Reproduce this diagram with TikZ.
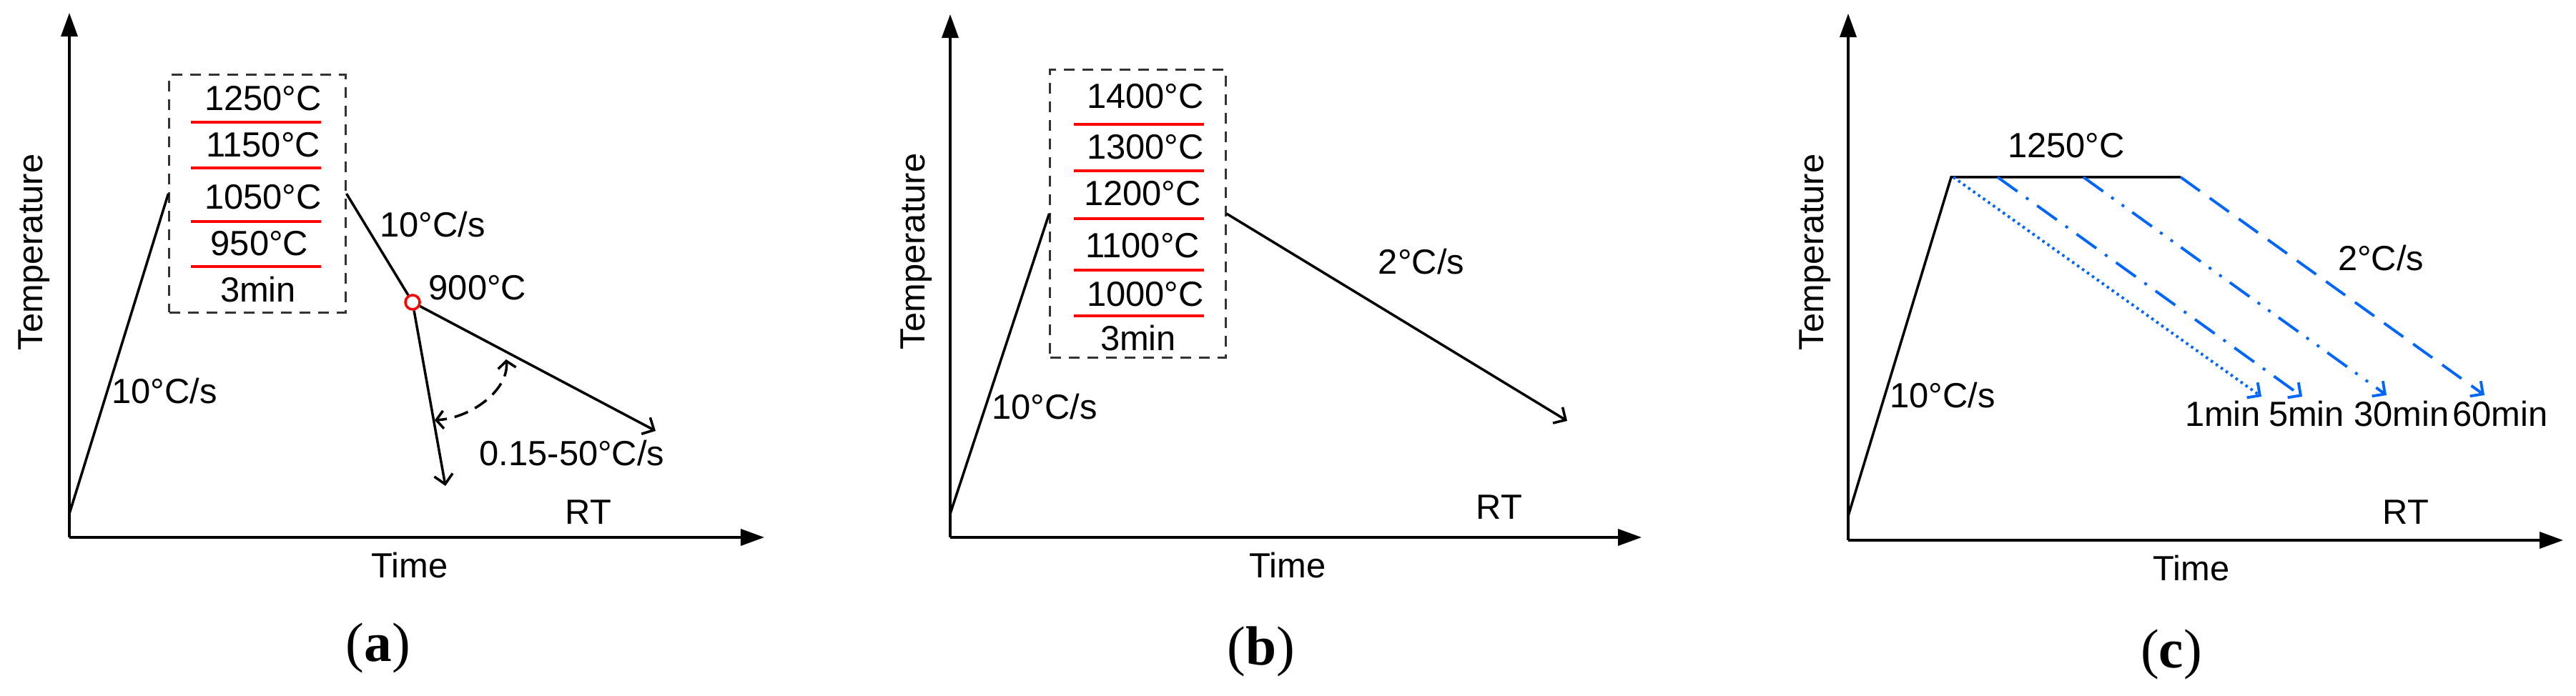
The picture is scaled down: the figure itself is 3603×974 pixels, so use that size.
\documentclass[tikz,border=0pt]{standalone}
\usepackage{fontspec}
\setmainfont{Liberation Sans}
\newfontfamily\capfont{Liberation Serif}
\usetikzlibrary{arrows.meta}
\definecolor{myblue}{RGB}{0,102,255}
\definecolor{myred}{RGB}{255,0,0}
\definecolor{boxgray}{RGB}{51,51,51}
\begin{document}
\begin{tikzpicture}[x=0.01cm,y=-0.01cm,
  lbl/.style={inner sep=0pt, anchor=base, font=\fontsize{13.9pt}{16pt}\selectfont},
  ylbl/.style={lbl, rotate=90},
  axis/.style={line width=1pt, -{Triangle[length=0.33cm,width=0.23cm]}},
  curve/.style={line width=1pt},
  barb/.style={line width=1pt, -{Straight Barb[length=0.13cm,width=0.26cm]}},
  holdbox/.style={draw=boxgray, line width=0.85pt, dash pattern=on 0.15cm off 0.11cm, inner sep=0pt},
  redline/.style={draw=myred, line width=1.3pt},
  bluearrow/.style={draw=myblue, line width=1.1pt, -{Straight Barb[length=0.13cm,width=0.26cm]}},
  panel/.style={inner sep=0pt, font=\capfont\fontsize{22pt}{24pt}\selectfont}
]
\useasboundingbox (0,0) rectangle (3603,974);

% ---------------- panel (a) ----------------
\coordinate (oa) at (97,752);
\coordinate (ya) at (97,18);
\coordinate (xa) at (1069,752);
\draw[axis] (oa) -- (ya);
\draw[axis] (oa) -- (xa);
\node[holdbox, minimum width=2.46cm, minimum height=3.32cm] (boxa) at (360,271) {};
\coordinate (ra) at (97,719);
\draw[curve] (ra) -- (boxa.west);
\node[circle, draw=myred, line width=1pt, fill=white, minimum size=0.2cm, inner sep=0pt] (c900) at (577,423) {};
\draw[curve] (boxa.east) -- (c900);
\coordinate (ta1) at (917,603);
\coordinate (ta2) at (623,680);
\draw[barb] (c900) -- (ta1);
\draw[barb] (c900) -- (ta2);
\coordinate (arc1) at (708,503);
\coordinate (arc2) at (608,588);
\draw[line width=1pt, dash pattern=on 0.2cm off 0.11cm,
  {Straight Barb[length=0.1cm,width=0.25cm]}-{Straight Barb[length=0.1cm,width=0.25cm]}]
  (arc1) .. controls (712,545) and (660,585) .. (arc2);
\foreach \yy/\nm in {171/ra1,235/ra2,310/ra3,373/ra4}{
  \coordinate (\nm l) at (267,\yy); \coordinate (\nm r) at (449,\yy);
  \draw[redline] (\nm l) -- (\nm r);}
\node[lbl] (a1250) at (368,155) {1250°C};
\node[lbl] (a1150) at (368,220) {1150°C};
\node[lbl] (a1050) at (368,293) {1050°C};
\node[lbl] (a950) at (363,358) {950°C};
\node[lbl] (a3min) at (361,423) {3min};
\node[lbl] (aup) at (230,565) {10°C/s};
\node[lbl] (adown) at (605,332) {10°C/s};
\node[lbl] (a900) at (668,420) {900°C};
\node[lbl] (arange) at (800,652) {0.15-50°C/s};
\node[lbl] (aRT) at (823,734) {RT};
\node[lbl] (atime) at (573,809) {Time};
\node[ylbl] (atemp) at (60,353) {Temperature};
\node[panel] (capa) at (529,907) {(\textbf{a})};

% ---------------- panel (b) ----------------
\coordinate (ob) at (1329,752);
\coordinate (yb) at (1329,20);
\coordinate (xb) at (2296,752);
\draw[axis] (ob) -- (yb);
\draw[axis] (ob) -- (xb);
\node[holdbox, minimum width=2.45cm, minimum height=4.02cm] (boxb) at (1591.5,299) {};
\coordinate (rb) at (1329,719);
\draw[curve] (rb) -- (boxb.west);
\coordinate (tb) at (2192,589);
\draw[barb] (boxb.east) -- (tb);
\foreach \yy/\nm in {174/rb1,239/rb2,306/rb3,378/rb4,442/rb5}{
  \coordinate (\nm l) at (1502,\yy); \coordinate (\nm r) at (1684,\yy);
  \draw[redline] (\nm l) -- (\nm r);}
\node[lbl] (b1400) at (1602,152) {1400°C};
\node[lbl] (b1300) at (1602,223) {1300°C};
\node[lbl] (b1200) at (1598,288) {1200°C};
\node[lbl] (b1100) at (1598,361) {1100°C};
\node[lbl] (b1000) at (1602,429) {1000°C};
\node[lbl] (b3min) at (1592,491) {3min};
\node[lbl] (bup) at (1461,587) {10°C/s};
\node[lbl] (bdown) at (1988,384) {2°C/s};
\node[lbl] (bRT) at (2097,727) {RT};
\node[lbl] (btime) at (1801,809) {Time};
\node[ylbl] (btemp) at (1293,352) {Temperature};
\node[panel] (capb) at (1764,912) {(\textbf{b})};

% ---------------- panel (c) ----------------
\coordinate (oc) at (2585,756);
\coordinate (yc) at (2585,19);
\coordinate (xc) at (3585,756);
\draw[axis] (oc) -- (yc);
\draw[axis] (oc) -- (xc);
\coordinate (rc) at (2585,722);
\coordinate (p1) at (2729,248);
\coordinate (p2) at (3050,248);
\draw[curve] (rc) -- (p1) -- (p2);
\coordinate (s1) at (2732,248);
\coordinate (s2) at (2794,248);
\coordinate (s3) at (2914,248);
\coordinate (e1) at (3163,555);
\coordinate (e2) at (3220,555);
\coordinate (e3) at (3338,553);
\coordinate (e4) at (3475,553);
\draw[bluearrow, dash pattern=on 0.035cm off 0.05cm] (s1) -- (e1);
\draw[bluearrow, dash pattern=on 0.34cm off 0.15cm on 0.04cm off 0.15cm] (s2) -- (e2);
\draw[bluearrow, dash pattern=on 0.34cm off 0.14cm on 0.04cm off 0.14cm on 0.04cm off 0.14cm] (s3) -- (e3);
\draw[bluearrow, dash pattern=on 0.33cm off 0.17cm] (p2) -- (e4);
\node[lbl] (c1250) at (2890,221) {1250°C};
\node[lbl] (cdown) at (3330,379) {2°C/s};
\node[lbl] (cup) at (2717,571) {10°C/s};
\node[lbl] (c1) at (3109,597) {1min};
\node[lbl] (c5) at (3226,597) {5min};
\node[lbl] (c30) at (3359,597) {30min};
\node[lbl] (c60) at (3497,597) {60min};
\node[lbl] (cRT) at (3365,734) {RT};
\node[lbl] (ctime) at (3065,813) {Time};
\node[ylbl] (ctemp) at (2550,353) {Temperature};
\node[panel] (capc) at (3037,916) {(\textbf{c})};
\end{tikzpicture}
\end{document}
